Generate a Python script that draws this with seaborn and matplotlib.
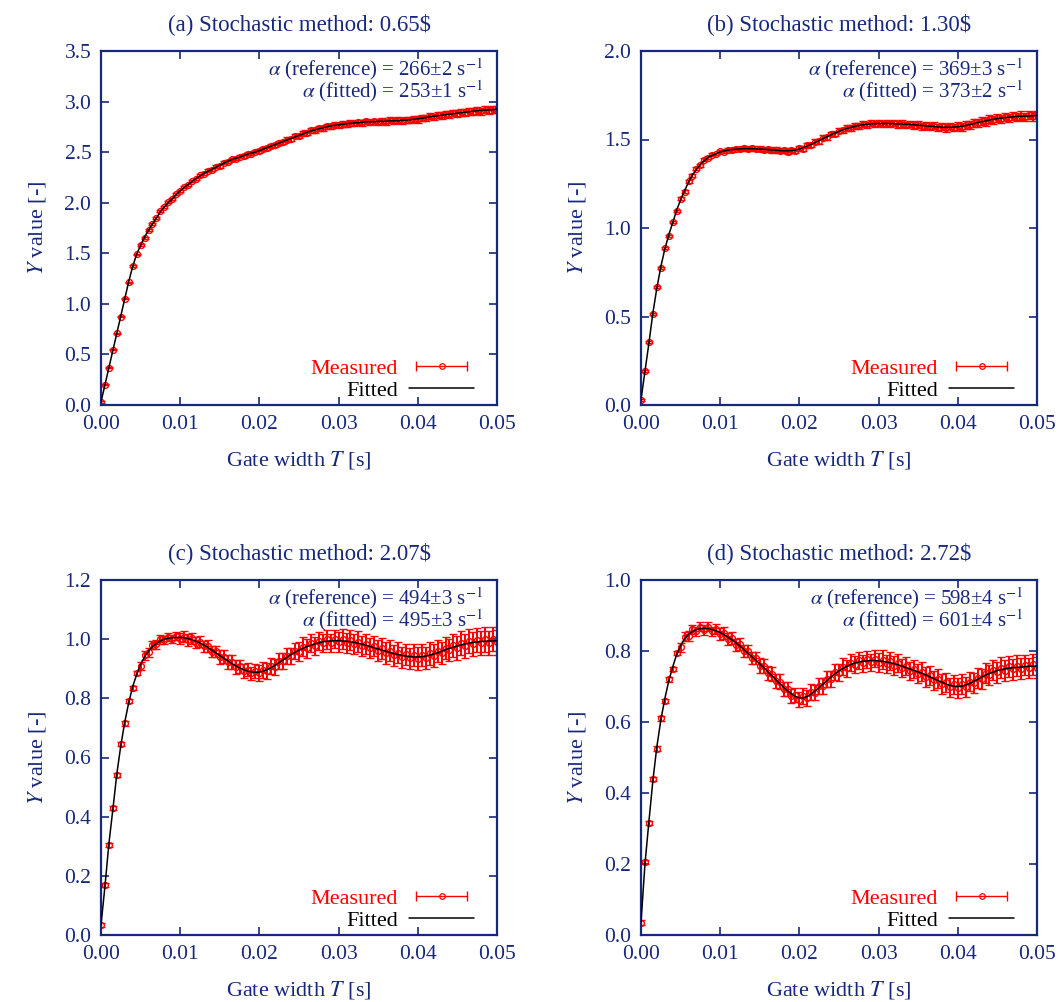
import numpy as np
import matplotlib
matplotlib.use('Agg')
import matplotlib.pyplot as plt
import seaborn as sns
from matplotlib.lines import Line2D
from matplotlib.legend_handler import HandlerLine2D

# gate width grid (s), step 0.5 ms
T = np.linspace(0, 0.05, 101)

# panel (a) 0.65$
fit_a = [0.03, 0.20, 0.37, 0.54, 0.71, 0.88, 1.05, 1.22, 1.37, 1.49,
         1.58, 1.66, 1.73, 1.79, 1.85, 1.91, 1.96, 2.00, 2.04, 2.08,
         2.12, 2.15, 2.18, 2.21, 2.24, 2.265, 2.29, 2.31, 2.33, 2.35,
         2.37, 2.39, 2.41, 2.425, 2.44, 2.45, 2.465, 2.48, 2.49, 2.50,
         2.515, 2.53, 2.545, 2.56, 2.575, 2.59, 2.605, 2.62, 2.635, 2.65,
         2.665, 2.68, 2.695, 2.71, 2.72, 2.73, 2.74, 2.75, 2.76, 2.765,
         2.77, 2.775, 2.78, 2.785, 2.79, 2.79, 2.795, 2.80, 2.80, 2.80,
         2.805, 2.805, 2.805, 2.81, 2.81, 2.81, 2.815, 2.815, 2.82, 2.825,
         2.83, 2.835, 2.84, 2.85, 2.855, 2.86, 2.865, 2.87, 2.875, 2.88,
         2.885, 2.89, 2.895, 2.90, 2.905, 2.91, 2.912, 2.915, 2.918, 2.92,
         2.925]
meas_a = [0.03, 0.20, 0.37, 0.545, 0.71, 0.875, 1.05, 1.215, 1.375, 1.49,
          1.585, 1.655, 1.735, 1.79, 1.845, 1.915, 1.955, 2.005, 2.035, 2.085,
          2.115, 2.155, 2.175, 2.215, 2.235, 2.27, 2.285, 2.315, 2.325, 2.355,
          2.365, 2.395, 2.405, 2.43, 2.435, 2.455, 2.46, 2.485, 2.485, 2.505,
          2.51, 2.535, 2.54, 2.565, 2.57, 2.595, 2.60, 2.625, 2.63, 2.655,
          2.66, 2.685, 2.69, 2.715, 2.715, 2.735, 2.735, 2.755, 2.755, 2.77,
          2.765, 2.78, 2.775, 2.79, 2.785, 2.795, 2.79, 2.805, 2.795, 2.805,
          2.80, 2.81, 2.80, 2.815, 2.805, 2.815, 2.81, 2.82, 2.815, 2.83,
          2.825, 2.84, 2.835, 2.855, 2.85, 2.865, 2.86, 2.875, 2.87, 2.885,
          2.88, 2.895, 2.89, 2.905, 2.90, 2.915, 2.905, 2.92, 2.91, 2.925,
          2.92]
err_a = [0.006, 0.01, 0.014, 0.017, 0.02, 0.024, 0.027, 0.03, 0.032, 0.035, 0.037]

# panel (b) 1.30$
fit_b = [0.03, 0.19, 0.35, 0.52, 0.66, 0.78, 0.88, 0.96, 1.03, 1.10,
         1.16, 1.21, 1.26, 1.30, 1.33, 1.36, 1.38, 1.40, 1.41, 1.42,
         1.43, 1.435, 1.44, 1.443, 1.445, 1.447, 1.448, 1.448, 1.448, 1.447,
         1.446, 1.445, 1.443, 1.441, 1.439, 1.437, 1.436, 1.436, 1.437, 1.44,
         1.446, 1.454, 1.463, 1.473, 1.483, 1.494, 1.505, 1.516, 1.527, 1.537,
         1.546, 1.555, 1.562, 1.568, 1.574, 1.579, 1.583, 1.586, 1.588, 1.589,
         1.59, 1.59, 1.59, 1.59, 1.589, 1.588, 1.587, 1.586, 1.585, 1.583,
         1.581, 1.579, 1.577, 1.575, 1.573, 1.571, 1.57, 1.569, 1.569, 1.57,
         1.572, 1.575, 1.579, 1.584, 1.589, 1.595, 1.60, 1.605, 1.61, 1.614,
         1.618, 1.621, 1.624, 1.626, 1.628, 1.63, 1.631, 1.632, 1.633, 1.634,
         1.635]
meas_b = [0.03, 0.19, 0.355, 0.515, 0.665, 0.775, 0.885, 0.955, 1.035, 1.095,
          1.165, 1.205, 1.265, 1.295, 1.335, 1.355, 1.385, 1.397, 1.413, 1.418,
          1.433, 1.432, 1.443, 1.44, 1.448, 1.444, 1.451, 1.445, 1.451, 1.444,
          1.449, 1.441, 1.446, 1.438, 1.443, 1.433, 1.439, 1.432, 1.441, 1.436,
          1.45, 1.449, 1.468, 1.469, 1.488, 1.49, 1.51, 1.512, 1.531, 1.533,
          1.55, 1.551, 1.566, 1.564, 1.578, 1.575, 1.587, 1.582, 1.592, 1.585,
          1.594, 1.586, 1.594, 1.586, 1.593, 1.584, 1.591, 1.582, 1.589, 1.579,
          1.585, 1.575, 1.581, 1.571, 1.577, 1.567, 1.574, 1.565, 1.573, 1.566,
          1.576, 1.571, 1.583, 1.58, 1.593, 1.591, 1.604, 1.601, 1.614, 1.61,
          1.622, 1.617, 1.628, 1.622, 1.632, 1.626, 1.635, 1.628, 1.637, 1.63,
          1.638]
err_b = [0.005, 0.008, 0.01, 0.012, 0.014, 0.016, 0.018, 0.02, 0.022, 0.024, 0.024]

# panel (c) 2.07$
fit_c = [0.034, 0.165, 0.31, 0.425, 0.545, 0.64, 0.72, 0.785, 0.84, 0.88,
         0.915, 0.94, 0.96, 0.975, 0.985, 0.994, 1.0, 1.003, 1.005, 1.006,
         1.006, 1.005, 1.002, 0.998, 0.993, 0.987, 0.98, 0.972, 0.963, 0.954,
         0.945, 0.936, 0.927, 0.918, 0.91, 0.903, 0.897, 0.892, 0.889, 0.888,
         0.889, 0.892, 0.897, 0.904, 0.912, 0.921, 0.93, 0.939, 0.948, 0.956,
         0.963, 0.969, 0.975, 0.98, 0.984, 0.988, 0.991, 0.993, 0.994, 0.995,
         0.995, 0.994, 0.993, 0.991, 0.989, 0.986, 0.983, 0.979, 0.975, 0.971,
         0.967, 0.963, 0.959, 0.955, 0.951, 0.948, 0.945, 0.943, 0.941, 0.94,
         0.94, 0.941, 0.943, 0.946, 0.95, 0.954, 0.959, 0.964, 0.969, 0.973,
         0.977, 0.981, 0.984, 0.987, 0.989, 0.991, 0.992, 0.993, 0.994, 0.994,
         0.995]
meas_c = [0.034, 0.17, 0.305, 0.43, 0.54, 0.645, 0.715, 0.79, 0.835, 0.885,
          0.91, 0.945, 0.955, 0.98, 0.982, 0.999, 0.996, 1.008, 1.0, 1.011,
          1.002, 1.009, 0.997, 1.003, 0.988, 0.992, 0.976, 0.977, 0.958, 0.959,
          0.94, 0.941, 0.922, 0.923, 0.905, 0.908, 0.892, 0.897, 0.884, 0.893,
          0.884, 0.897, 0.892, 0.909, 0.907, 0.926, 0.925, 0.944, 0.943, 0.961,
          0.958, 0.975, 0.969, 0.986, 0.978, 0.994, 0.986, 0.999, 0.988, 1.001,
          0.989, 1.0, 0.987, 0.997, 0.983, 0.992, 0.977, 0.985, 0.969, 0.977,
          0.961, 0.969, 0.953, 0.961, 0.945, 0.954, 0.939, 0.949, 0.935, 0.946,
          0.934, 0.947, 0.937, 0.952, 0.944, 0.96, 0.953, 0.97, 0.963, 0.979,
          0.971, 0.987, 0.978, 0.993, 0.983, 0.997, 0.986, 0.999, 0.988, 1.0,
          0.989]
err_c = [0.007, 0.014, 0.019, 0.023, 0.027, 0.031, 0.034, 0.036, 0.038, 0.041, 0.041]

# panel (d) 2.72$
fit_d = [0.035, 0.20, 0.32, 0.435, 0.53, 0.605, 0.665, 0.715, 0.755, 0.79,
         0.815, 0.834, 0.847, 0.855, 0.86, 0.863, 0.864, 0.863, 0.86, 0.857,
         0.852, 0.846, 0.839, 0.831, 0.823, 0.814, 0.804, 0.794, 0.784, 0.774,
         0.764, 0.753, 0.742, 0.731, 0.72, 0.709, 0.698, 0.688, 0.679, 0.672,
         0.668, 0.668, 0.672, 0.679, 0.688, 0.697, 0.707, 0.717, 0.727, 0.736,
         0.744, 0.751, 0.757, 0.762, 0.766, 0.769, 0.771, 0.772, 0.773, 0.773,
         0.772, 0.771, 0.769, 0.767, 0.764, 0.761, 0.757, 0.753, 0.749, 0.745,
         0.741, 0.737, 0.732, 0.727, 0.722, 0.717, 0.712, 0.707, 0.703, 0.701,
         0.70, 0.701, 0.704, 0.709, 0.714, 0.72, 0.726, 0.732, 0.737, 0.741,
         0.745, 0.748, 0.75, 0.752, 0.753, 0.754, 0.755, 0.756, 0.757, 0.757,
         0.758]
meas_d = [0.035, 0.205, 0.315, 0.44, 0.525, 0.61, 0.66, 0.72, 0.75, 0.795,
          0.81, 0.84, 0.842, 0.861, 0.855, 0.869, 0.859, 0.869, 0.856, 0.862,
          0.847, 0.851, 0.834, 0.836, 0.818, 0.819, 0.799, 0.799, 0.779, 0.779,
          0.759, 0.758, 0.737, 0.736, 0.715, 0.714, 0.693, 0.693, 0.674, 0.677,
          0.663, 0.673, 0.667, 0.684, 0.683, 0.702, 0.702, 0.722, 0.722, 0.741,
          0.739, 0.756, 0.752, 0.767, 0.761, 0.774, 0.766, 0.777, 0.768, 0.778,
          0.767, 0.776, 0.764, 0.772, 0.759, 0.766, 0.752, 0.758, 0.744, 0.75,
          0.736, 0.742, 0.727, 0.732, 0.717, 0.722, 0.707, 0.712, 0.698, 0.706,
          0.695, 0.706, 0.699, 0.714, 0.709, 0.725, 0.721, 0.737, 0.732, 0.746,
          0.74, 0.753, 0.745, 0.757, 0.748, 0.759, 0.75, 0.761, 0.752, 0.762,
          0.753]
err_d = [0.006, 0.013, 0.017, 0.02, 0.022, 0.024, 0.026, 0.027, 0.028, 0.029, 0.029]

titles = ['(a) Stochastic method: 0.65$', '(b) Stochastic method: 1.30$',
          '(c) Stochastic method: 2.07$', '(d) Stochastic method: 2.72$']
alpha_ref = ['266±2', '369±3', '494±3', '598±4']
alpha_fit = ['253±1', '373±2', '495±3', '601±4']
ymax = [3.5, 2.0, 1.2, 1.0]
ystep = [0.5, 0.5, 0.2, 0.2]
fits = [fit_a, fit_b, fit_c, fit_d]
meas = [meas_a, meas_b, meas_c, meas_d]
errs = [err_a, err_b, err_c, err_d]

navy = '#17287c'

sns.set_theme(style='ticks')
plt.rcParams['font.family'] = ['Liberation Serif', 'DejaVu Serif']
plt.rcParams['mathtext.fontset'] = 'stix'

W, H = 1061, 1002
fig = plt.figure(figsize=(W / 100, H / 100), dpi=100)
boxes = [(101, 51, 497, 405), (641, 51, 1037, 405),
         (101, 580, 497, 935), (641, 580, 1037, 935)]

for i in range(4):
    l, t, r, b = boxes[i]
    ax = fig.add_axes([l / W, 1 - b / H, (r - l) / W, (b - t) / H])
    e = np.repeat(errs[i], [10] * 10 + [1])
    ax.errorbar(T, meas[i], yerr=e, fmt='o', color='red', mfc='none', ms=4.2,
                mew=1.0, elinewidth=1.5, capsize=2.6, capthick=1.3, zorder=2)
    sns.lineplot(x=T, y=fits[i], ax=ax, color='black', lw=1.1, zorder=3)

    ax.set_xlim(0, 0.05)
    ax.set_ylim(0, ymax[i])
    ax.set_xticks(np.arange(0, 0.0501, 0.01))
    ax.set_xticklabels([f'{v:.2f}' for v in np.arange(0, 0.0501, 0.01)])
    yt = np.arange(0, ymax[i] + 1e-9, ystep[i])
    ax.set_yticks(yt)
    ax.set_yticklabels([f'{v:.1f}' for v in yt])
    ax.tick_params(direction='in', top=True, right=True, length=6, width=1.2,
                   color=navy, labelcolor=navy, labelsize=15.5, pad=7)
    for sp in ax.spines.values():
        sp.set_color(navy)
        sp.set_linewidth(1.6)

    ax.set_title(titles[i], color=navy, fontsize=16.5, pad=15)
    ax.set_xlabel(r'Gate width $T$ [s]', color=navy, fontsize=16, labelpad=11)
    ax.set_ylabel(r'$Y$ value [-]', color=navy, fontsize=16, labelpad=12)

    # alpha values, two right-aligned lines in one text
    txt = (r'$\alpha$ (reference) = ' + alpha_ref[i] + r' s$^{-1}$' + '\n' +
           r'$\alpha$ (fitted) = ' + alpha_fit[i] + r' s$^{-1}$')
    ax.text(0.965, 0.985, txt, transform=ax.transAxes, ha='right', va='top',
            multialignment='right', color=navy, fontsize=15, linespacing=0.8)

    cap_h = Line2D([], [], color='red', lw=1, marker='|', ms=7, mew=1)
    dot_h = Line2D([], [], color='red', lw=0, marker='o', mfc='none', ms=4, mew=0.9)
    fit_h = Line2D([], [], color='black', lw=1.1)
    leg = ax.legend([(cap_h, dot_h), fit_h], ['Measured', 'Fitted'],
                    handler_map={cap_h: HandlerLine2D(numpoints=2)},
                    loc='lower right', bbox_to_anchor=(0.975, -0.025),
                    frameon=False, markerfirst=False, handlelength=2.9,
                    fontsize=16, labelspacing=0.05, borderaxespad=0.2,
                    handletextpad=0.5)
    for tx, c in zip(leg.get_texts(), ['red', 'black']):
        tx.set_color(c)

fig.savefig('out.png', dpi=100)
